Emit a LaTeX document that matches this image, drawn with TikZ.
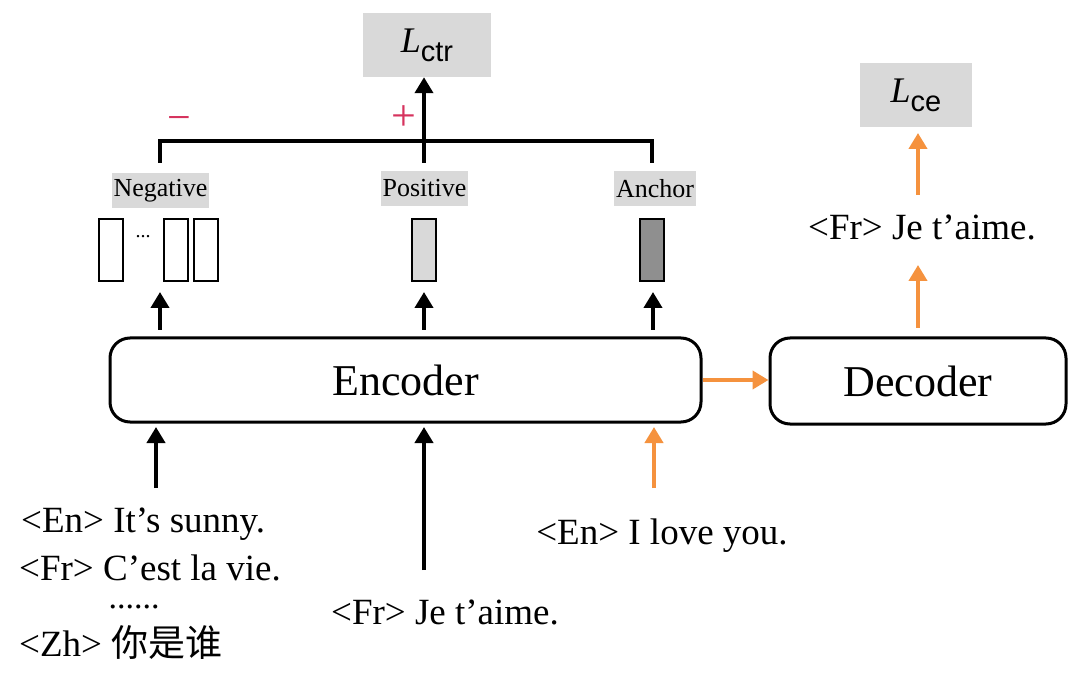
\documentclass[tikz,border=0pt]{standalone}
\usepackage{fontspec}
\setmainfont{Liberation Serif}
\newfontfamily\cjk{Noto Sans CJK SC}
\newfontfamily\subsans{Liberation Sans}
\usetikzlibrary{arrows.meta}
\definecolor{lossgray}{HTML}{D9D9D9}
\definecolor{orng}{HTML}{F5923E}
\definecolor{pinkred}{HTML}{D6335E}
\definecolor{anch}{HTML}{8F8F8F}
\newcommand{\lossname}[1]{{\fontsize{36}{40}\selectfont\itshape L}\raisebox{-9pt}{\subsans\fontsize{29}{32}\selectfont #1}}
\begin{document}
\begin{tikzpicture}[x=1pt,y=-1pt,
  lossbox/.style={fill=lossgray, inner sep=0pt, minimum width=128pt, minimum height=64pt},
  tagbox/.style={fill=lossgray, inner sep=2pt, minimum height=35pt, font=\fontsize{26}{30}\selectfont},
  coder/.style={draw, line width=3pt, rounded corners=20pt, font=\fontsize{44}{48}\selectfont},
  vec/.style={draw, line width=2pt, minimum width=24pt, minimum height=62pt, inner sep=0pt},
  blk/.style={line width=4pt, -{Triangle[width=18pt,length=16pt]}},
  org/.style={line width=4pt, orng, -{Triangle[width=18pt,length=16pt]}},
  txt/.style={font=\fontsize{37}{42}\selectfont, inner sep=0pt},
  sgn/.style={pinkred, inner sep=0pt}]
\useasboundingbox (0,0) rectangle (1080,679);
\fill[white] (0,0) rectangle (1080,679);

% losses
\node[lossbox] (lctr) at (427,45) {\lossname{ctr}};
\node[lossbox, minimum width=112pt] (lce) at (916,95) {\lossname{ce}};

% encoder / decoder
\node[coder, minimum width=591pt, minimum height=84pt] (enc) at (405.5,380) {Encoder};
\node[coder, minimum width=296pt, minimum height=86pt] (dec) at (918,381) {Decoder};

% tags
\node[tagbox, minimum width=95pt] (neg) at (160.5,190.5) {Negative};
\node[tagbox, minimum width=85pt] (pos) at (424.5,188.5) {Positive};
\node[tagbox, minimum width=81pt] (anc) at (655,188.5) {Anchor};

% vectors
\node[vec] (n1) at (111,250.5) {};
\node[inner sep=0pt, font=\fontsize{20}{20}\selectfont, anchor=base] (ndots) at (143,238) {...};
\node[vec] (n2) at (175.5,250.5) {};
\node[vec] (n3) at (206,250.5) {};
\node[vec, fill=lossgray] (pv) at (424,250.5) {};
\node[vec, fill=anch] (av) at (652,250.5) {};

% bracket
\coordinate (bl) at (160,141);
\coordinate (br) at (652,141);
\coordinate (bm) at (424,141);
\draw[line width=4pt] (160,163) -- (bl) -- (br) -- (652,163);
\draw[line width=4pt] (424,163) -- (bm);
\draw[blk] (bm) -- (lctr.south -| bm);
\node[sgn, font=\fontsize{42}{42}\selectfont] (minus) at (179,124) {\textminus};
\node[sgn, font=\fontsize{44}{44}\selectfont] (plus) at (404,118) {+};

% encoder up arrows
\coordinate (ea1) at (160,330);
\coordinate (ea2) at (424,330);
\coordinate (ea3) at (653,330);
\draw[blk] (ea1) -- (160,292);
\draw[blk] (ea2) -- (424,292);
\draw[blk] (ea3) -- (653,292);

% enc -> dec
\draw[org] (enc.east) -- (enc.east -| dec.west);

% decoder output
\node[txt, anchor=base] (out) at (922,240) {<Fr> Je t'aime.};
\draw[org] (918,328) -- (918,265);
\draw[org] (918,195) -- (918,133);

% inputs
\node[txt, anchor=base west] (in1) at (21,532) {<En> It's sunny.};
\node[txt, anchor=base west] (in2) at (19,580) {<Fr> C'est la vie.};
\node[inner sep=0pt, font=\fontsize{34}{34}\selectfont, anchor=base] (in3) at (134,608) {......};
\node[txt, anchor=base west] (in4) at (19,656) {<Zh> {\cjk 你是谁}};
\node[txt, anchor=base] (in5) at (445,624) {<Fr> Je t'aime.};
\node[txt, anchor=base] (in6) at (662,544) {<En> I love you.};

\draw[blk] (156,488) -- (156,427);
\draw[blk] (424,570) -- (424,427);
\draw[org] (654,488) -- (654,427);
\end{tikzpicture}
\end{document}
